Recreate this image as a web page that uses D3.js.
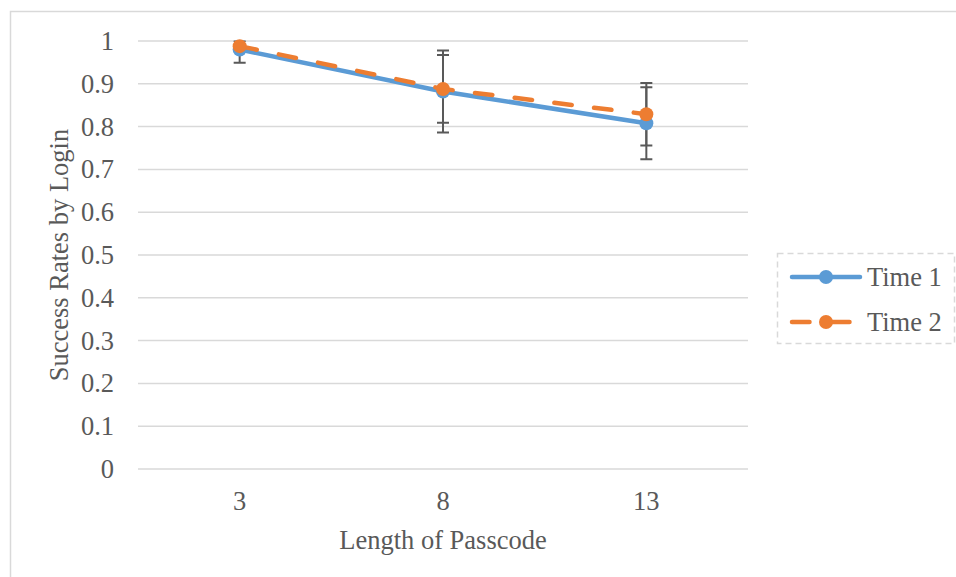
<!DOCTYPE html>
<html><head><meta charset="utf-8">
<script src="https://cdn.jsdelivr.net/npm/d3@7"></script>
<style>body{margin:0;background:#fff}svg{display:block}text{font-family:"Liberation Serif","Times New Roman",serif}</style>
</head><body>
<script>
const categories = ["3","8","13"];
const seriesNames = ["Time 1","Time 2"];
const time1 = [0.980, 0.882, 0.808];
const time2 = [0.988, 0.888, 0.829];
const time1Err = [0.031, 0.096, 0.084];
const time2Err = [0.012, 0.079, 0.073];
const yTicks = [0,0.1,0.2,0.3,0.4,0.5,0.6,0.7,0.8,0.9,1];
const colors = ["#5B9BD5","#ED7D31"];

const W=956,H=577;
const svg=d3.select("body").append("svg").attr("width",W).attr("height",H);
const fs=26.5;
const txt="#595959";

svg.append("rect").attr("x",10.5).attr("y",11.5).attr("width",W+20).attr("height",H+20)
  .attr("fill","#fff").attr("stroke","#d9d9d9").attr("stroke-width",1.5);

const x=d3.scaleBand().domain(categories).range([138,748]);
const y=d3.scaleLinear().domain([0,1]).range([469,41]);

svg.append("defs").append("clipPath").attr("id","plotclip").append("rect")
  .attr("x",138).attr("y",y(1)-0.5).attr("width",610).attr("height",y(0)-y(1)+1);

svg.append("g").selectAll("line").data(yTicks).join("line")
  .attr("x1",138).attr("x2",748).attr("y1",d=>y(d)).attr("y2",d=>y(d))
  .attr("stroke","#d9d9d9").attr("stroke-width",1.5);

const yAxis=svg.append("g").attr("transform","translate(138,0)")
  .call(d3.axisLeft(y).tickValues(yTicks).tickSize(0).tickPadding(24).tickFormat(d=>String(+d.toFixed(1))));
yAxis.select(".domain").remove();
yAxis.attr("font-family",null).attr("font-size",null);
yAxis.selectAll("text").attr("font-size",fs).attr("fill",txt);

const xAxis=svg.append("g").attr("transform","translate(0,469)")
  .call(d3.axisBottom(x).tickSize(0).tickPadding(22));
xAxis.select(".domain").remove();
xAxis.attr("font-family",null).attr("font-size",null);
xAxis.selectAll("text").attr("font-size",fs).attr("fill",txt);

svg.append("text").attr("x",443).attr("y",549).attr("text-anchor","middle")
  .attr("font-size",fs).attr("fill",txt).text("Length of Passcode");
svg.append("text").attr("transform","translate(68,255) rotate(-90)").attr("text-anchor","middle")
  .attr("font-size",fs).attr("fill",txt).text("Success Rates by Login");

const cx=c=>x(c)+x.bandwidth()/2;
const series=[{vals:time1,err:time1Err},{vals:time2,err:time2Err}];

const eb=svg.append("g").attr("clip-path","url(#plotclip)");
series.forEach(s=>{
  categories.forEach((c,i)=>{
    const v=s.vals[i],e=s.err[i];
    eb.append("line").attr("x1",cx(c)).attr("x2",cx(c)).attr("y1",y(v+e)).attr("y2",y(v-e))
      .attr("stroke","#595959").attr("stroke-width",2);
    [v+e,v-e].forEach(t=>eb.append("line").attr("x1",cx(c)-6).attr("x2",cx(c)+6)
      .attr("y1",y(t)).attr("y2",y(t)).attr("stroke","#595959").attr("stroke-width",2));
  });
});

const line=d3.line().x((d,i)=>cx(categories[i])).y(d=>y(d));
series.forEach((s,k)=>{
  const p=svg.append("path").datum(s.vals).attr("d",line).attr("fill","none")
    .attr("stroke",colors[k]).attr("stroke-width",4.5).attr("stroke-linecap","round").attr("stroke-linejoin","round");
  if(k===1) p.attr("stroke-dasharray","17.5,22.5");
  svg.append("g").selectAll("circle").data(s.vals).join("circle")
    .attr("cx",(d,i)=>cx(categories[i])).attr("cy",d=>y(d)).attr("r",7).attr("fill",colors[k]);
});

svg.append("rect").attr("x",777.5).attr("y",253.5).attr("width",177).attr("height",90)
  .attr("fill","#fff").attr("stroke","#d9d9d9").attr("stroke-width",1.5).attr("stroke-dasharray","6,4");
seriesNames.forEach((n,k)=>{
  const ly=277+k*45;
  const l=svg.append("line").attr("x1",792).attr("x2",860).attr("y1",ly).attr("y2",ly)
    .attr("stroke",colors[k]).attr("stroke-width",4.5).attr("stroke-linecap","round");
  if(k===1) l.attr("stroke-dasharray","17.5,22.5");
  svg.append("circle").attr("cx",826).attr("cy",ly).attr("r",7).attr("fill",colors[k]);
  svg.append("text").attr("x",867).attr("y",ly).attr("dy","0.35em")
    .attr("font-size",fs).attr("fill",txt).text(n);
});
</script>
</body></html>
